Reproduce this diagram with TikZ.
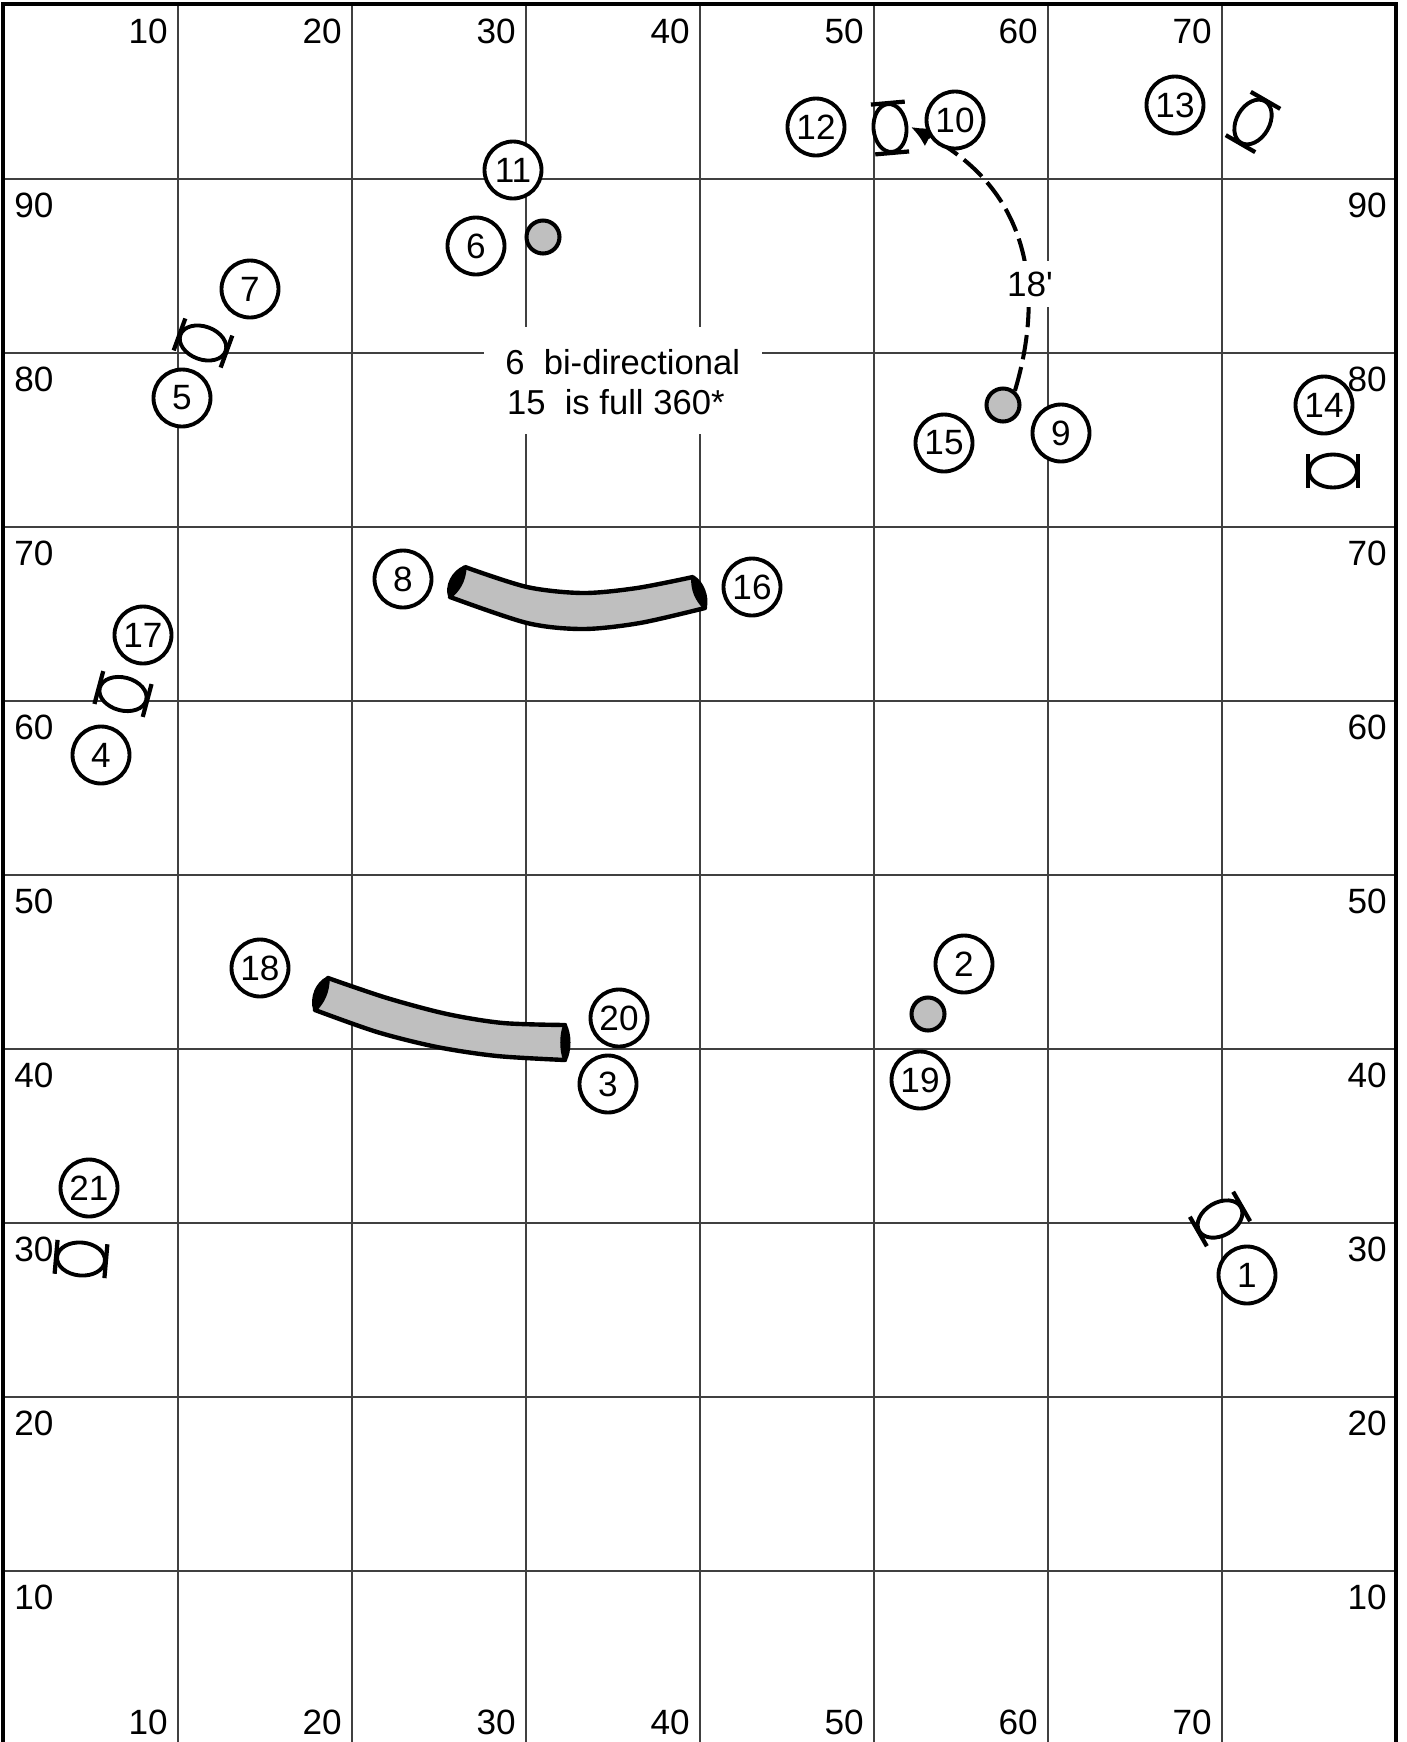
\documentclass[tikz,border=0pt]{standalone}
\usepackage{fontspec}
\setmainfont{Liberation Sans}
\usetikzlibrary{arrows.meta, positioning}

\begin{document}
\begin{tikzpicture}[
    x=0.02cm, y=-0.02cm,
    every node/.style={font=\fontsize{20}{22.8}\selectfont},
    gridline/.style={draw=black!75, line width=0.7pt},
    frameline/.style={line width=1.9pt},
    num/.style={circle, draw, fill=white, line width=2.2pt, minimum size=1.14cm, inner sep=0pt},
    post/.style={circle, draw, fill=black!25, line width=2.3pt, minimum size=0.66cm, inner sep=0pt},
    note/.style={fill=white, inner sep=0pt},
    tube/.style={draw, fill=black!25, line width=2.5pt, line join=round},
    tubecap/.style={draw, fill=black, line width=2pt, line join=round},
    path18/.style={-{Latex[length=12pt, width=12pt]}, line width=2.3pt, dash pattern=on 14pt off 4.5pt},
    jumpstand/.pic={
        \draw[line width=2.2pt, fill=white] (0,0) ellipse (16.5 and 24);
        \draw[line width=2.4pt] (-17,-25) -- (17,-25) (-17,25) -- (17,25);
    },
]
\useasboundingbox (0,0) rectangle (1407,1742);

% Grid
\foreach \i in {1,...,7}
    \draw[gridline] (4+174*\i,5) -- (4+174*\i,1742);
\foreach \i in {1,...,9}
    \draw[gridline] (3,5+174*\i) -- (1396,5+174*\i);
\draw[frameline] (3,1742) -- (3,4) -- (1396,4) -- (1396,1742);

% Numbers along the edges
\foreach \i [evaluate=\i as \n using int(10*\i)] in {1,...,7} {
    \node[anchor=east, inner sep=0pt] (top\i) at (168+174*\i-174,31.5) {\n};
    \node[anchor=east, inner sep=0pt] (bottom\i) at (168+174*\i-174,1722) {\n};
}
\foreach \i [evaluate=\i as \n using int(100-10*\i)] in {1,...,9} {
    \node[anchor=west, inner sep=0pt] (left\i) at (14,31+174*\i) {\n};
    \node[anchor=east, inner sep=0pt] (right\i) at (1387,31+174*\i) {\n};
}

% Posts
\node[post] (post6) at (543,237) {};
\node[post] (post15) at (1003,405) {};
\node[post] (post2) at (928,1014) {};

% Dashed path
\coordinate (tip12) at (911,127);
\draw[path18] (post15.50) .. controls (1045,290) and (1030,190) .. (tip12);

% Notes
\node[note, minimum width=0.84cm, minimum height=0.92cm] (dist) at (1030,284) {18\textquotesingle};
\node[note, minimum width=5.56cm, minimum height=2.14cm] (remark) at (623,380.5) {};
\node[anchor=north west, inner sep=0pt, align=left, font=\fontsize{19.7}{22.8}\selectfont] (remarktext) at (505,349) {6\ \ bi-directional\\\hspace{1pt}15\ \ is full 360*};

% Stands
\pic[rotate=5] (stand12) at (890,128) {jumpstand};
\pic[rotate=-30] (stand13) at (1253,122) {jumpstand};
\pic[rotate=90] (stand14) at (1333,471) {jumpstand};
\pic[rotate=70] (stand5) at (203,343) {jumpstand};
\pic[rotate=75] (stand4) at (123,694) {jumpstand};
\pic[rotate=-60] (stand1) at (1220,1219) {jumpstand};
\pic[rotate=85] (stand21) at (81,1259) {jumpstand};

% Tunnels
\draw[tube] plot[smooth] coordinates {(465,567) (527,587) (583,593) (637,588) (693,577)}
    -- plot[smooth] coordinates {(705,608) (640,623) (583,629) (527,623) (450,597)} -- cycle;
\draw[tubecap] (465,567) .. controls (453,572) and (446,586) .. (450,597) .. controls (458,590) and (464,582) .. (465,567);
\draw[tubecap] (693,577) .. controls (702,582) and (708,597) .. (705,608) .. controls (697,600) and (692,590) .. (693,577);
\draw[tube] plot[smooth] coordinates {(328,978) (387,998) (447,1014) (503,1023) (565,1025)}
    -- plot[smooth] coordinates {(565,1060) (497,1056) (437,1047) (377,1032) (315,1010)} -- cycle;
\draw[tubecap] (328,978) .. controls (317,983) and (311,998) .. (315,1010) .. controls (323,1002) and (328,992) .. (328,978);
\draw[tubecap] (565,1025) .. controls (570,1034) and (570,1051) .. (565,1060) .. controls (561,1051) and (561,1034) .. (565,1025);

% Numbered circles
\node[num] (n1) at (1247,1275) {1};
\node[num] (n2) at (964,964) {2};
\node[num] (n3) at (608,1084) {3};
\node[num] (n4) at (101,755) {4};
\node[num] (n5) at (182,398) {5};
\node[num] (n6) at (476,246) {6};
\node[num] (n7) at (250,289) {7};
\node[num] (n8) at (403,579) {8};
\node[num] (n9) at (1061,433) {9};
\node[num] (n10) at (955,120) {10};
\node[num] (n11) at (513,170) {11};
\node[num] (n12) at (816,127) {12};
\node[num] (n13) at (1175,105) {13};
\node[num] (n14) at (1324,405) {14};
\node[num] (n15) at (944,443) {15};
\node[num] (n16) at (752,587) {16};
\node[num] (n17) at (143,635) {17};
\node[num] (n18) at (260,968) {18};
\node[num] (n19) at (920,1080) {19};
\node[num] (n20) at (619,1018) {20};
\node[num] (n21) at (89,1188) {21};

\end{tikzpicture}
\end{document}
